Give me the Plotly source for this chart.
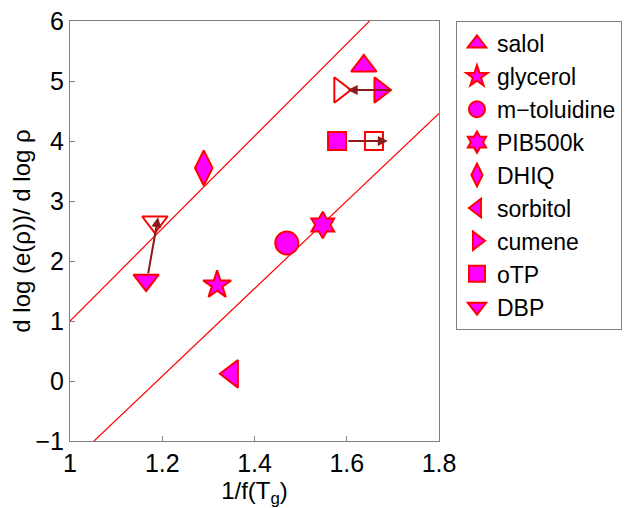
import plotly.graph_objects as go

# ---- data ----
names = ["salol", "glycerol", "m\u2212toluidine", "PIB500k", "DHIQ",
         "sorbitol", "cumene", "oTP", "DBP"]
symbols = ["triangle-up", "star", "circle", "hexagram", "diamond-tall",
           "triangle-left", "triangle-right", "square", "triangle-down"]
x_vals = [1.637, 1.319, 1.470, 1.548, 1.290, 1.351, 1.672, 1.579, 1.165]
y_vals = [5.25, 1.60, 2.30, 2.60, 3.55, 0.12, 4.85, 4.00, 1.68]
sizes = [22, 21, 23, 20, 25, 24, 22, 18, 22]

# open (shifted) markers
open_names = ["cumene", "oTP", "DBP"]
open_symbols = ["triangle-right-open", "square-open", "triangle-down-open"]
open_x = [1.585, 1.659, 1.184]
open_y = [4.85, 4.00, 2.65]
open_sizes = [22, 18, 22]

# arrows (tail -> head)
arrow_tail_x = [1.698, 1.600, 1.169]
arrow_tail_y = [4.85, 4.00, 1.77]
arrow_head_x = [1.602, 1.689, 1.191]
arrow_head_y = [4.85, 4.00, 2.73]

# reference lines y = slope*x + intercept
line_slopes = [7.7, 7.3]
line_intercepts = [-6.7, -8.68]
x_range = [1.0, 1.8]
y_range = [-1, 6]

fig = go.Figure()

for s, b in zip(line_slopes, line_intercepts):
    fig.add_trace(go.Scatter(
        x=x_range, y=[s * x_range[0] + b, s * x_range[1] + b],
        mode="lines", line=dict(color="#ff0000", width=1.2),
        showlegend=False, hoverinfo="skip"))

for n, sym, x, y, sz in zip(names, symbols, x_vals, y_vals, sizes):
    fig.add_trace(go.Scatter(
        x=[x], y=[y], mode="markers", name=n,
        marker=dict(symbol=sym, size=sz, color="#ff00ff",
                    line=dict(color="#ff0000", width=2))))

for n, sym, x, y, sz in zip(open_names, open_symbols, open_x, open_y, open_sizes):
    fig.add_trace(go.Scatter(
        x=[x], y=[y], mode="markers", name=n + " (open)", showlegend=False,
        marker=dict(symbol=sym, size=sz, color="#ff0000",
                    line=dict(color="#ff0000", width=2))))

for tx, ty, hx, hy in zip(arrow_tail_x, arrow_tail_y, arrow_head_x, arrow_head_y):
    fig.add_annotation(x=hx, y=hy, ax=tx, ay=ty, xref="x", yref="y",
                       axref="x", ayref="y", text="", showarrow=True,
                       arrowhead=2, arrowsize=1, arrowwidth=2,
                       arrowcolor="#8b1a1a", standoff=0, startstandoff=0)

axis_common = dict(showline=True, linecolor="#808080", linewidth=1, mirror=True,
                   ticks="inside", ticklen=5, tickcolor="#808080",
                   showgrid=False, zeroline=False, automargin=False,
                   ticklabeloverflow="allow",
                   tickfont=dict(size=25, color="black"))

fig.update_layout(
    width=635, height=500,
    margin=dict(l=62, r=204, t=13, b=67),
    paper_bgcolor="white", plot_bgcolor="white",
    font=dict(family="Liberation Sans, Arial, sans-serif", color="black"),
    xaxis=dict(range=x_range, tickvals=[1, 1.2, 1.4, 1.6, 1.8],
               ticktext=["1", "1.2", "1.4", "1.6", "1.8"],
               title=dict(text="1/f(T<sub>g</sub>)", font=dict(size=24), standoff=0),
               **axis_common),
    yaxis=dict(range=y_range, tickvals=[-1, 0, 1, 2, 3, 4, 5, 6],
               title=dict(text="d log (e(\u03c1))/ d log \u03c1", font=dict(size=24), standoff=8),
               **axis_common),
    legend=dict(x=1.046, y=1, xanchor="left", yanchor="top",
                bordercolor="#808080", borderwidth=1,
                font=dict(size=23), tracegroupgap=0, itemsizing="trace"),
    showlegend=True,
)

fig.write_html("out.html")
